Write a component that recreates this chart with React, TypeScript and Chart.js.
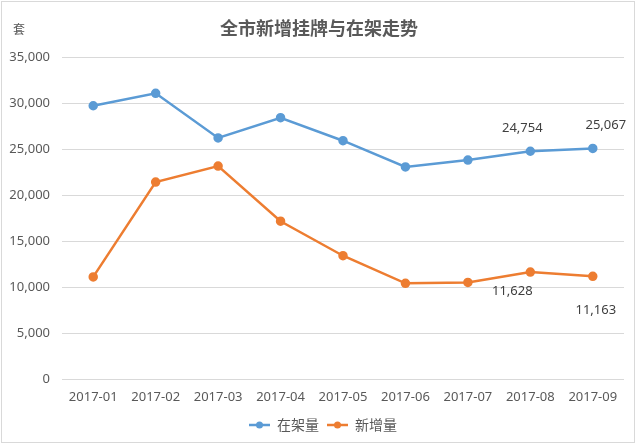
import React, { useEffect, useRef } from "react";
import { Chart, registerables } from "chart.js";

Chart.register(...registerables);

const months = ["2017-01", "2017-02", "2017-03", "2017-04", "2017-05", "2017-06", "2017-07", "2017-08", "2017-09"];
const onShelf = [29700, 31050, 26200, 28400, 25900, 23050, 23800, 24754, 25067];
const newListings = [11100, 21400, 23150, 17150, 13400, 10400, 10500, 11628, 11163];
const labelledIndices = [7, 8];
const seriesNames = ["在架量", "新增量"];
const titleText = "全市新增挂牌与在架走势";
const unitText = "套";

const BLUE = "#5B9BD5";
const ORANGE = "#ED7D31";
const TEXT = "#595959";
const FONT = '"Noto Sans", "Noto Sans CJK SC", sans-serif';
const CJK = '"Noto Sans CJK SC", sans-serif';

const fmt = (v: number) => v.toLocaleString("en-US");

const decorPlugin = {
  id: "decor",
  beforeDraw(chart: any) {
    const { ctx, width, height } = chart;
    ctx.save();
    ctx.fillStyle = "#ffffff";
    ctx.fillRect(0, 0, width, height);
    ctx.strokeStyle = "#D9D9D9";
    ctx.lineWidth = 1;
    ctx.strokeRect(1.5, 1.5, 633, 441);
    ctx.restore();
  },
  afterDraw(chart: any) {
    const { ctx } = chart;
    ctx.save();
    // title
    ctx.fillStyle = TEXT;
    ctx.font = `bold 18px ${CJK}`;
    ctx.textAlign = "center";
    ctx.textBaseline = "middle";
    ctx.fillText(titleText, 319, 28);
    // unit
    ctx.font = `12px ${CJK}`;
    ctx.fillText(unitText, 19, 29);
    // data labels
    ctx.font = `13px ${FONT}`;
    ctx.fillStyle = "#404040";
    const m0 = chart.getDatasetMeta(0);
    const m1 = chart.getDatasetMeta(1);
    labelledIndices.forEach((i) => {
      const p0 = m0.data[i];
      const p1 = m1.data[i];
      ctx.fillText(fmt(onShelf[i]), p0.x - 8 + (i === 8 ? 21 : 0), p0.y - 23);
      ctx.fillText(fmt(newListings[i]), p1.x - 18 + (i === 8 ? 21 : 0), p1.y + 19 + (i === 8 ? 15 : 0));
    });
    // legend
    const colors = [BLUE, ORANGE];
    const starts = [249, 327];
    ctx.font = `14px ${CJK}`;
    ctx.textAlign = "left";
    ctx.fillStyle = TEXT;
    starts.forEach((x, k) => {
      const y = 425;
      ctx.strokeStyle = colors[k];
      ctx.lineWidth = 2.5;
      ctx.beginPath();
      ctx.moveTo(x, y);
      ctx.lineTo(x + 21, y);
      ctx.stroke();
      ctx.fillStyle = colors[k];
      ctx.beginPath();
      ctx.arc(x + 10.5, y, 3.5, 0, Math.PI * 2);
      ctx.fill();
      ctx.fillStyle = TEXT;
      ctx.fillText(seriesNames[k], x + 28, y);
    });
    ctx.restore();
  },
};

export default function App() {
  const ref = useRef<HTMLCanvasElement>(null);
  useEffect(() => {
    document.body.style.margin = "0";
    const chart = new Chart(ref.current!, {
      type: "line",
      data: {
        labels: months,
        datasets: [
          {
            label: seriesNames[0],
            data: onShelf,
            borderColor: BLUE,
            backgroundColor: BLUE,
            borderWidth: 2.5,
            pointRadius: 3.5,
            pointBackgroundColor: BLUE,
            pointBorderColor: BLUE,
            tension: 0,
          },
          {
            label: seriesNames[1],
            data: newListings,
            borderColor: ORANGE,
            backgroundColor: ORANGE,
            borderWidth: 2.5,
            pointRadius: 3.5,
            pointBackgroundColor: ORANGE,
            pointBorderColor: ORANGE,
            tension: 0,
          },
        ],
      },
      options: {
        responsive: false,
        animation: false,
        layout: { padding: { top: 57, right: 16, left: 0, bottom: 37 } },
        plugins: {
          legend: { display: false },
          title: { display: false },
          tooltip: { enabled: false },
        },
        scales: {
          x: {
            offset: true,
            grid: { display: false, drawTicks: false },
            border: { display: false },
            ticks: { color: TEXT, font: { size: 13, family: FONT }, padding: 10, maxRotation: 0 },
            afterFit(scale: any) {
              scale.height = 30;
            },
          },
          y: {
            min: 0,
            max: 35000,
            grid: { color: "#D9D9D9", lineWidth: 1, drawTicks: false },
            border: { display: false },
            ticks: {
              stepSize: 5000,
              color: TEXT,
              font: { size: 13, family: FONT },
              padding: 12,
              callback: (v: any) => fmt(Number(v)),
            },
            afterFit(scale: any) {
              scale.width = 62;
            },
          },
        },
      },
      plugins: [decorPlugin],
    });
    return () => chart.destroy();
  }, []);
  return <canvas ref={ref} width={640} height={446} style={{ display: "block" }} />;
}
